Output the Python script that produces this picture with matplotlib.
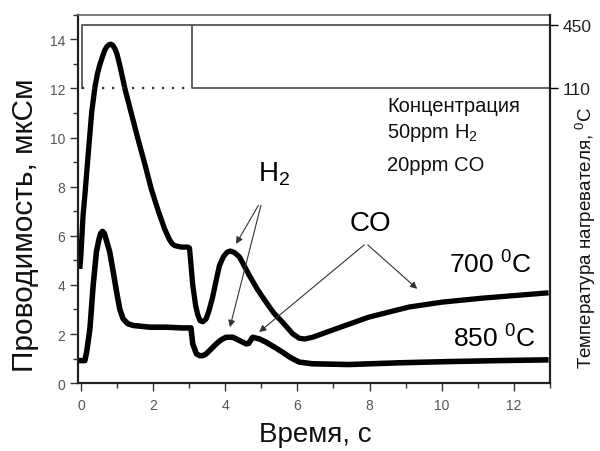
import matplotlib
matplotlib.use('Agg')
import matplotlib.pyplot as plt
from matplotlib.ticker import MultipleLocator

plt.rcParams['font.family'] = ['Liberation Sans', 'DejaVu Sans']
plt.rcParams['mathtext.fontset'] = 'custom'
plt.rcParams['mathtext.rm'] = 'Liberation Sans'
plt.rcParams['mathtext.default'] = 'regular'

# conductance at 700 C heater
t700 = [-0.03, 0.0, 0.06, 0.11, 0.20, 0.30, 0.39, 0.46, 0.52, 0.60, 0.66, 0.72, 0.78, 0.83,
        0.88, 0.94, 1.00, 1.06, 1.13, 1.22, 1.40, 1.58, 1.77, 1.95, 2.14, 2.32, 2.40, 2.46,
        2.53, 2.60, 2.78, 2.96, 3.01, 3.10, 3.18, 3.24, 3.30, 3.38, 3.47, 3.55, 3.65,
        3.75, 3.84, 3.95, 4.05, 4.14, 4.25, 4.39, 4.50, 4.67, 4.90, 5.13, 5.35, 5.59,
        5.87, 6.05, 6.20, 6.42, 7.06, 7.98, 9.09, 10.01, 11.11, 12.04, 12.96]
g700 = [4.65, 5.20, 6.83, 7.64, 9.27, 11.04, 12.06, 12.60, 12.94, 13.30, 13.55, 13.70, 13.78, 13.80,
        13.76, 13.62, 13.40, 13.05, 12.60, 11.99, 10.97, 9.95, 8.93, 7.91, 7.03, 6.28, 6.02, 5.83,
        5.68, 5.60, 5.54, 5.54, 5.50, 4.00, 3.15, 2.78, 2.55, 2.50, 2.62, 2.95, 3.50,
        4.20, 4.79, 5.15, 5.33, 5.38, 5.32, 5.15, 4.85, 4.38, 3.80, 3.30, 2.85, 2.48,
        2.01, 1.83, 1.80, 1.87, 2.21, 2.69, 3.10, 3.30, 3.46, 3.57, 3.68]

# conductance at 850 C heater
t850 = [-0.07, 0.11, 0.16, 0.25, 0.34, 0.43, 0.50, 0.55, 0.60, 0.65, 0.70, 0.80, 0.90, 0.99,
        1.08, 1.17, 1.30, 1.45, 1.91, 2.37, 2.80, 3.05, 3.10, 3.20, 3.29, 3.38, 3.47, 3.60,
        3.75, 3.88, 4.02, 4.21, 4.39, 4.58, 4.65, 4.76, 4.95, 5.13, 5.35, 5.59, 5.80,
        6.05, 6.42, 7.43, 8.81, 10.19, 11.57, 12.96]
g850 = [0.92, 0.92, 1.27, 2.21, 3.98, 5.34, 5.85, 6.10, 6.18, 6.10, 5.85, 5.34, 4.50, 3.71,
        3.00, 2.62, 2.42, 2.35, 2.28, 2.28, 2.25, 2.25, 1.60, 1.20, 1.12, 1.12, 1.19, 1.38,
        1.60, 1.76, 1.87, 1.87, 1.74, 1.60, 1.62, 1.87, 1.80, 1.67, 1.48, 1.26, 1.05,
        0.86, 0.79, 0.76, 0.83, 0.88, 0.92, 0.95]

# heater temperature steps, C
heat_a_t = [0.02, 0.02, 13.0]
heat_a_T = [110, 450, 450]
heat_b_t = [3.07, 3.07, 13.0]
heat_b_T = [450, 110, 110]
heat_dot_t = [0.02, 3.07]
heat_dot_T = [110, 110]

fig = plt.figure(figsize=(6, 4.52), dpi=100)
ax = fig.add_axes([0.13, 0.150, 0.7867, 0.8153])

ax.plot(t700, g700, color='black', lw=3.8, solid_joinstyle='round', solid_capstyle='butt')
ax.plot(t850, g850, color='black', lw=4.0, solid_joinstyle='round', solid_capstyle='butt')

ax.set_xlim(-0.08, 13.0)
ax.set_ylim(0, 15)
ax.xaxis.set_major_locator(MultipleLocator(2))
ax.xaxis.set_minor_locator(MultipleLocator(1))
ax.yaxis.set_major_locator(MultipleLocator(2))
ax.yaxis.set_minor_locator(MultipleLocator(1))
ax.tick_params(which='major', length=6, width=1.0, color='#333', labelsize=10,
               labelcolor='#555', direction='out', pad=3)
ax.tick_params(which='minor', length=3.5, width=1.0, color='#333', direction='out')
ax.tick_params(axis='x', pad=5)
for s in ['left', 'bottom']:
    ax.spines[s].set_linewidth(1.6)
    ax.spines[s].set_color('#222')
ax.spines['top'].set_linewidth(1.2)
ax.spines['top'].set_color('#666')
ax.spines['right'].set_visible(False)

ax2 = ax.twinx()
ax2.set_ylim(-1474, 503)
ax2.plot(heat_a_t, heat_a_T, color='#555', lw=1.3)
ax2.plot(heat_b_t, heat_b_T, color='#555', lw=1.3)
ax2.plot(heat_dot_t, heat_dot_T, color='#333', lw=1.6, linestyle=(0, (1, 3.5)))
ax2.set_yticks([450, 110])
ax2.set_yticklabels(['450', '110'])
ax2.tick_params(length=6, width=1.0, labelsize=12.5, labelcolor='#222', pad=3)
for s in ['left', 'bottom', 'top']:
    ax2.spines[s].set_visible(False)
ax2.spines['right'].set_linewidth(1.6)
ax2.spines['right'].set_color('#222')

# annotations
ax.text(8.48, (384.3 - 107) / 24.55, 'Концентрация', fontsize=14.5, va='center', ha='left', color='#111')
ax.text(8.48, (384.3 - 133) / 24.55, '50ppm H$_2$', fontsize=14.5, va='center', ha='left', color='#111')
ax.text(8.48, (384.3 - 166) / 24.55, '20ppm CO', fontsize=14.5, va='center', ha='left', color='#111')

ax.text(4.91, 8.24, 'H$_2$', fontsize=20, ha='left', va='baseline')
ax.text(7.45, 6.22, 'CO', fontsize=20, ha='left', va='baseline')
ax.text(10.19, 4.52, '700 $^0$C', fontsize=19, ha='left', va='baseline')
ax.text(10.30, 1.47, '850 $^0$C', fontsize=19, ha='left', va='baseline')

arrow = dict(arrowstyle='-|>', lw=0.8, color='#333', mutation_scale=10, shrinkA=0, shrinkB=0)
ax.annotate('', xy=(4.30, 5.67), xytext=(4.92, 7.24), arrowprops=arrow)
ax.annotate('', xy=(4.13, 2.28), xytext=(4.99, 7.24), arrowprops=arrow)
ax.annotate('', xy=(4.94, 2.08), xytext=(7.85, 5.63), arrowprops=arrow)
ax.annotate('', xy=(9.32, 3.84), xytext=(7.95, 5.63), arrowprops=arrow)

fig.text(25 / 600, 1 - 225 / 452, 'Проводимость, мкСм', rotation=90, fontsize=21.5,
         ha='center', va='center', color='#111')
fig.text(315 / 600, 1 - 435 / 452, 'Время, с', fontsize=20, ha='center', va='center',
         color='#111')
fig.text(586 / 600, 1 - 238 / 452, 'Температура нагревателя, $^0$C', rotation=90,
         fontsize=13.5, ha='center', va='center', color='#111')

fig.savefig('out.png', dpi=100)
